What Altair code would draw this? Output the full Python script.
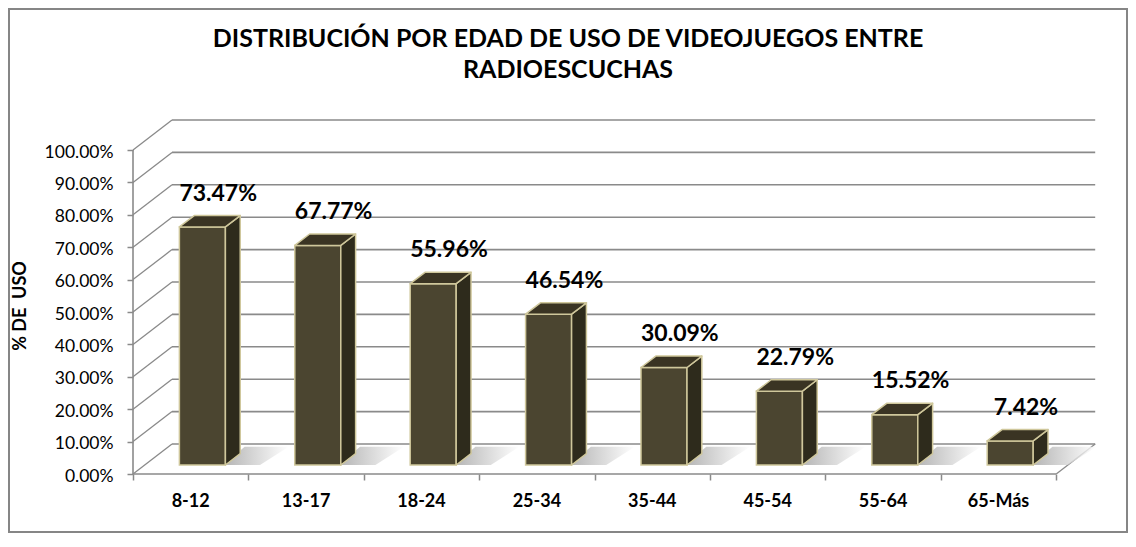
import altair as alt
import pandas as pd

# ---------------- data ----------------
CATEGORIES = ["8-12", "13-17", "18-24", "25-34", "35-44", "45-54", "55-64", "65-Más"]
VALUES = [73.47, 67.77, 55.96, 46.54, 30.09, 22.79, 15.52, 7.42]
Y_TICKS = [0, 10, 20, 30, 40, 50, 60, 70, 80, 90, 100]
TITLE_LINES = ["DISTRIBUCIÓN POR EDAD DE USO DE VIDEOJUEGOS ENTRE", "RADIOESCUCHAS"]
Y_TITLE = "% DE\u00a0 USO"

# ---------------- geometry / style ----------------
W, H = 964, 354
PX_X = 115.4          # pixels per category band
PX_Y = 3.24           # pixels per percent
XMAX = W / PX_X
YMAX = H / PX_Y
DX = 39 / PX_X        # full depth of the 3-D box (x units)
DY = 30 / PX_Y        # full depth of the 3-D box (y units)
BW = 46 / PX_X        # bar width
F0, F1 = 0.30, 0.68   # bar front/back depth fractions
BDX = (F1 - F0) * DX
BDY = (F1 - F0) * DY

FONT = "Lato"
GRID = "#8A8A8A"
EDGE = "#CFC79B"
FRONT = "#4B4530"
TOP = "#3A3423"
SIDE = "#2E2B1C"

xs = alt.Scale(domain=[0, XMAX], nice=False, zero=False, padding=0)
ys = alt.Scale(domain=[0, YMAX], nice=False, zero=False, padding=0)

X_AX = alt.Axis(values=list(range(len(CATEGORIES) + 1)), labels=False, domain=False,
                grid=False, ticks=True, tickSize=6, tickColor=GRID, tickWidth=1.5,
                title=None, zindex=1)
Y_AX = alt.Axis(values=Y_TICKS, labelExpr="format(datum.value, '.2f') + '%'", domain=False,
                grid=False, ticks=True, tickSize=6, tickColor=GRID, tickWidth=1.5,
                labelPadding=14, labelFont=FONT, labelFontSize=17.5, labelColor="black",
                labelOffset=2, title=None, zindex=1)


def X(f):
    return alt.X(f"{f}:Q", scale=xs, axis=X_AX)


def Y(f):
    return alt.Y(f"{f}:Q", scale=ys, axis=Y_AX)


# ---------------- derived tables ----------------
bars, sides, tops, shadows = [], [], [], []
for i, (c, v) in enumerate(zip(CATEGORIES, VALUES)):
    cx = i + 0.5
    xl = cx - BW / 2 + F0 * DX
    xr = xl + BW
    yb = F0 * DY
    yt = yb + v
    bars.append({"cat": c, "val": v, "cx": cx, "xl": xl, "xr": xr, "yb": yb, "yt": yt,
                 "lx": xl + BW / 2 + BDX, "ly": yt + BDY,
                 "label": f"{v:.2f}%"})
    sides += [{"cat": c, "x": xr, "y": yb, "y2": yt},
              {"cat": c, "x": xr + BDX, "y": yb + BDY, "y2": yt + BDY}]
    tops += [{"cat": c, "y": yt, "x": xl, "x2": xr},
             {"cat": c, "y": yt + BDY, "x": xl + BDX, "x2": xr + BDX}]
    shadows += [{"cat": c, "y": yb, "x": xr - 0.02, "x2": xr + 0.30},
                {"cat": c, "y": yb + BDY * 1.6, "x": xr + BDX * 1.3, "x2": xr + BDX + 0.42}]

bars = pd.DataFrame(bars)
sides = pd.DataFrame(sides)
tops = pd.DataFrame(tops)
shadows = pd.DataFrame(shadows)

n = len(CATEGORIES)
diag = pd.DataFrame([{"t": t, "x": 0, "y": t} for t in Y_TICKS] +
                    [{"t": t, "x": DX, "y": t + DY} for t in Y_TICKS])
back = pd.DataFrame({"t": Y_TICKS, "x": [DX] * len(Y_TICKS), "x2": [n + DX] * len(Y_TICKS),
                     "y": [t + DY for t in Y_TICKS]})
floor_edge = pd.DataFrame({"x": [n, n + DX], "y": [0, DY]})
front_edge = pd.DataFrame({"x": [0], "x2": [n], "y": [0]})
yaxis_line = pd.DataFrame({"x": [0], "y": [0], "y2": [max(Y_TICKS)]})
one = pd.DataFrame({"k": [0]})

# ---------------- layers ----------------
border = alt.Chart(one).mark_rect(fill="white", stroke="#868686", strokeWidth=2).encode(
    x=alt.value(-124), x2=alt.value(W + 30), y=alt.value(-111), y2=alt.value(H + 58))

back_lines = alt.Chart(back).mark_rule(color=GRID, strokeWidth=1.6).encode(
    x=X("x"), x2="x2:Q", y=Y("y"))

diag_lines = alt.Chart(diag).mark_line(color=GRID, strokeWidth=1.3).encode(
    x=X("x"), y=Y("y"), detail="t:N")

floor_r = alt.Chart(floor_edge).mark_line(color=GRID, strokeWidth=1.3).encode(
    x=X("x"), y=Y("y"))

front_line = alt.Chart(front_edge).mark_rule(color=GRID, strokeWidth=1.6).encode(
    x=X("x"), x2="x2:Q", y=Y("y"))

y_line = alt.Chart(yaxis_line).mark_rule(color=GRID, strokeWidth=1.6).encode(
    x=X("x"), y=Y("y"), y2="y2:Q")

shadow_grad = alt.Gradient(gradient="linear", x1=0, y1=0, x2=1, y2=0,
                           stops=[alt.GradientStop(offset=0, color="#A0A0A0"),
                                  alt.GradientStop(offset=1, color="#FFFFFF")])
shadow = alt.Chart(shadows).mark_area(orient="horizontal", color=shadow_grad, opacity=0.8).encode(
    y=Y("y"), x=X("x"), x2="x2:Q", detail="cat:N")

front = alt.Chart(bars).mark_rect(fill=FRONT, stroke=EDGE, strokeWidth=1.5).encode(
    x=X("xl"), x2="xr:Q", y=Y("yb"), y2="yt:Q")

side = alt.Chart(sides).mark_area(orient="vertical", fill=SIDE, stroke=EDGE, strokeWidth=1.5,
                                  strokeJoin="round").encode(
    x=X("x"), y=Y("y"), y2="y2:Q", detail="cat:N")

top = alt.Chart(tops).mark_area(orient="horizontal", fill=TOP, stroke=EDGE, strokeWidth=1.5,
                                strokeJoin="round").encode(
    y=Y("y"), x=X("x"), x2="x2:Q", detail="cat:N")

labels = alt.Chart(bars).mark_text(font=FONT, fontSize=23, fontWeight="bold", color="black",
                                   baseline="alphabetic", align="center", dy=-15, dx=1).encode(
    x=X("lx"), y=Y("ly"), text="label:N")

cat_labels = alt.Chart(bars).mark_text(font=FONT, fontSize=18, fontWeight="bold", color="black",
                                       baseline="alphabetic", align="center").encode(
    x=X("cx"), y=alt.value(387), text="cat:N")

title = alt.Chart(one).mark_text(text=TITLE_LINES, font=FONT, fontSize=25, fontWeight="bold",
                                 color="black", baseline="alphabetic", align="center",
                                 lineHeight=31).encode(
    x=alt.value(435), y=alt.value(-73))

y_title = alt.Chart(one).mark_text(text=Y_TITLE, font=FONT, fontSize=18, fontWeight="bold",
                                   color="black", baseline="middle", align="center",
                                   angle=270).encode(
    x=alt.value(-112), y=alt.value(186))

chart = alt.layer(
    border, back_lines, diag_lines, floor_r, front_line, y_line, shadow,
    front, side, top, labels, cat_labels, title, y_title
).properties(
    width=W, height=H,
    padding={"left": 125, "top": 112, "right": 31, "bottom": 59},
    autosize=alt.AutoSizeParams(type="none"),
    background="white",
).configure_view(stroke=None)

chart.save("out.html", embed_options={"renderer": "svg", "actions": False})
